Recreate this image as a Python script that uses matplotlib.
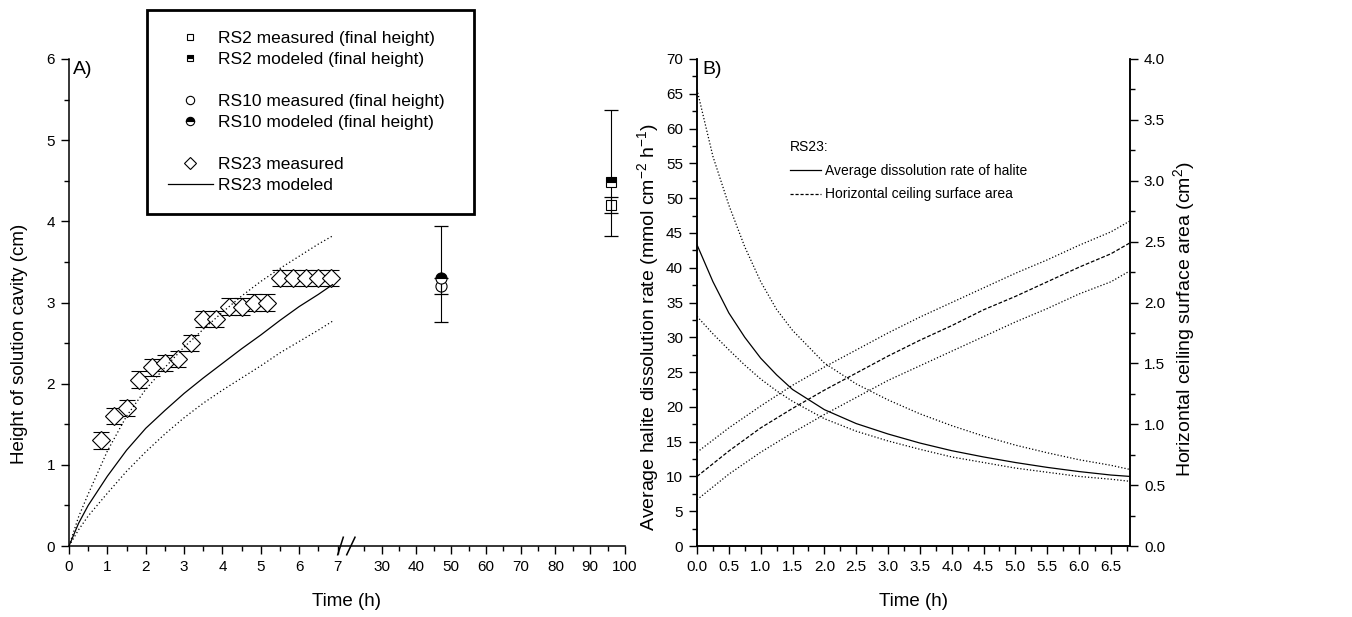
import numpy as np
import matplotlib
matplotlib.use("Agg")
import matplotlib.pyplot as plt
from matplotlib.lines import Line2D
from matplotlib.ticker import FixedLocator, MultipleLocator, FormatStrFormatter

plt.rcParams["font.family"] = ["Liberation Sans", "DejaVu Sans"]
plt.rcParams["mathtext.default"] = "regular"

# === A) height of solution cavity ===
# RS23 measured (h, cm)
rs23_t = [0.83, 1.17, 1.5, 1.83, 2.17, 2.5, 2.83, 3.17, 3.5, 3.83,
          4.17, 4.5, 4.83, 5.17, 5.5, 5.83, 6.17, 6.5, 6.83]
rs23_h = [1.3, 1.6, 1.7, 2.05, 2.2, 2.25, 2.3, 2.5, 2.8, 2.8,
          2.95, 2.95, 3.0, 3.0, 3.3, 3.3, 3.3, 3.3, 3.3]
rs23_err = 0.1

# RS23 modeled + bounds
mod_t = [0, 0.25, 0.5, 1, 1.5, 2, 2.5, 3, 3.5, 4, 4.5, 5, 5.5, 6, 6.5, 6.87]
mod_h = [0, 0.28, 0.50, 0.86, 1.18, 1.45, 1.67, 1.88, 2.07, 2.25, 2.43, 2.60, 2.78, 2.95, 3.10, 3.22]
mod_hi = [0, 0.36, 0.64, 1.17, 1.60, 1.93, 2.20, 2.45, 2.67, 2.88, 3.08, 3.26, 3.42, 3.57, 3.72, 3.82]
mod_lo = [0, 0.20, 0.37, 0.65, 0.92, 1.16, 1.38, 1.58, 1.76, 1.92, 2.07, 2.22, 2.38, 2.52, 2.66, 2.77]

# final heights (RS10, RS2)
fin_t = [47, 96]
fin_meas = [3.2, 4.2]
fin_meas_err = [0.1, 0.1]
fin_mod = [3.30, 4.48]
fin_mod_lo = [2.76, 3.82]
fin_mod_hi = [3.94, 5.37]

# === B) dissolution rate / ceiling area ===
rate_t = [0, 0.25, 0.5, 0.75, 1, 1.25, 1.5, 2, 2.5, 3, 3.5, 4, 4.5, 5, 5.5, 6, 6.5, 6.8]
rate_mid = [43.3, 38.0, 33.5, 30.0, 27.0, 24.6, 22.5, 19.6, 17.6, 16.1, 14.8, 13.7, 12.8, 12.0, 11.3, 10.7, 10.2, 10.0]
rate_up = [65.6, 56.0, 49.0, 43.0, 38.0, 34.0, 31.0, 26.3, 23.3, 21.0, 19.0, 17.3, 15.8, 14.5, 13.4, 12.4, 11.6, 11.0]
rate_low = [33.0, 30.5, 28.2, 26.0, 24.0, 22.3, 20.8, 18.3, 16.5, 15.1, 13.9, 12.8, 12.0, 11.2, 10.6, 10.0, 9.6, 9.3]

area_t = [0, 0.5, 1, 1.5, 2, 2.5, 3, 3.5, 4, 4.5, 5, 5.5, 6, 6.5, 6.8]
area_mid = [0.571, 0.78, 0.97, 1.13, 1.28, 1.42, 1.56, 1.69, 1.81, 1.94, 2.05, 2.17, 2.29, 2.40, 2.49]
area_up = [0.77, 0.97, 1.15, 1.32, 1.47, 1.61, 1.75, 1.88, 2.00, 2.12, 2.24, 2.35, 2.47, 2.58, 2.67]
area_low = [0.38, 0.59, 0.77, 0.93, 1.08, 1.22, 1.36, 1.48, 1.60, 1.72, 1.84, 1.95, 2.07, 2.17, 2.26]

# broken time axis (0-7 h, then 20-100 h compressed)
BRK_A, BRK_B, K = 7.1, 18.4, 0.0906


def fwd(t):
    t = np.asarray(t, dtype=float)
    return np.where(t <= BRK_A, t, BRK_A + np.clip(t - BRK_B, 0, None) * K)


def inv(x):
    x = np.asarray(x, dtype=float)
    return np.where(x <= BRK_A, x, BRK_B + (x - BRK_A) / K)


TICK_FS = 11
W, H = 1352, 617

fig = plt.figure(figsize=(W / 100, H / 100), dpi=100)
axA = fig.add_axes([69 / W, 71 / H, 556 / W, 487 / H])
axB = fig.add_axes([697 / W, 71 / H, 433 / W, 487 / H])
axB2 = axB.twinx()

for a in (axA, axB, axB2):
    a.tick_params(which="both", direction="out", width=1.0, labelsize=TICK_FS, pad=4)
    a.tick_params(which="major", length=6)
    a.tick_params(which="minor", length=3.5)
    for s in a.spines.values():
        s.set_linewidth(1.1)
    a.spines["top"].set_visible(False)

# ---- panel A ----
axA.spines["right"].set_visible(False)
axA.set_xscale("function", functions=(fwd, inv))
axA.set_xlim(0, 100)
axA.set_ylim(0, 6)
axA.xaxis.set_major_locator(FixedLocator([0, 1, 2, 3, 4, 5, 6, 7, 30, 40, 50, 60, 70, 80, 90, 100]))
axA.xaxis.set_minor_locator(FixedLocator([0.5, 1.5, 2.5, 3.5, 4.5, 5.5, 6.5, 25, 35, 45, 55, 65, 75, 85, 95]))
axA.xaxis.set_major_formatter(FormatStrFormatter("%g"))
axA.xaxis.set_minor_formatter(FormatStrFormatter(""))
axA.yaxis.set_major_locator(MultipleLocator(1))
axA.yaxis.set_minor_locator(MultipleLocator(0.5))

axA.errorbar(rs23_t, rs23_h, yerr=rs23_err, fmt="D", ms=9.5, mfc="white", mec="black",
             mew=0.8, ecolor="black", elinewidth=0.8, capsize=5.5, capthick=0.9, zorder=2)
axA.plot(mod_t, mod_h, color="black", lw=0.9, zorder=3)
axA.plot(mod_t, mod_hi, color="black", lw=0.9, ls=(0, (1, 2)), zorder=3)
axA.plot(mod_t, mod_lo, color="black", lw=0.9, ls=(0, (1, 2)), zorder=3)

yerr_mod = [np.array(fin_mod) - np.array(fin_mod_lo), np.array(fin_mod_hi) - np.array(fin_mod)]
axA.errorbar(fin_t, fin_mod, yerr=yerr_mod, fmt="none", ecolor="black",
             elinewidth=0.8, capsize=5, capthick=0.9)
axA.errorbar(fin_t, fin_meas, yerr=fin_meas_err, fmt="none", ecolor="black",
             elinewidth=0.8, capsize=5, capthick=0.9)
axA.plot(fin_t[0], fin_meas[0], "o", ms=8, mfc="none", mec="black", mew=0.8)
axA.plot(fin_t[1], fin_meas[1], "s", ms=7, mfc="none", mec="black", mew=0.8)
axA.plot(fin_t[0], fin_mod[0], "o", ms=8, fillstyle="top", mfc="black",
         markerfacecoloralt="white", mec="black", mew=0.8)
axA.plot(fin_t[1], fin_mod[1], "s", ms=7, fillstyle="top", mfc="black",
         markerfacecoloralt="white", mec="black", mew=0.8)

# break marks on the time axis
for x0, x1 in [(0.4833, 0.4933), (0.4995, 0.5144)]:
    axA.add_line(Line2D([x0, x1], [-0.018, 0.018], transform=axA.transAxes,
                        color="black", lw=1.1, clip_on=False))

axA.set_xlabel("Time (h)", fontsize=13.5, labelpad=14)
axA.set_ylabel("Height of solution cavity (cm)", fontsize=13.5)
axA.yaxis.set_label_coords(-0.074, 0.415)
axA.text(0.008, 0.995, "A)", transform=axA.transAxes, fontsize=14, va="top", ha="left")

blank = Line2D([], [], ls="none")
handles = [
    Line2D([], [], ls="none", marker="s", ms=5, mfc="none", mec="black", mew=0.8),
    Line2D([], [], ls="none", marker="s", ms=5, fillstyle="top", mfc="black",
           markerfacecoloralt="white", mec="black", mew=0.8),
    blank,
    Line2D([], [], ls="none", marker="o", ms=6, mfc="none", mec="black", mew=0.8),
    Line2D([], [], ls="none", marker="o", ms=6, fillstyle="top", mfc="black",
           markerfacecoloralt="white", mec="black", mew=0.8),
    blank,
    Line2D([], [], ls="none", marker="D", ms=6.5, mfc="none", mec="black", mew=0.8),
    Line2D([], [], color="black", lw=0.9),
]
labels = ["RS2 measured (final height)", "RS2 modeled (final height)", " ",
          "RS10 measured (final height)", "RS10 modeled (final height)", " ",
          "RS23 measured", "RS23 modeled"]
legA = fig.legend(handles, labels, loc="upper left", mode="expand",
                  bbox_to_anchor=(147 / W, 0.5, 327 / W, 1 - 10 / H - 0.5),
                  borderaxespad=0, fontsize=12.5, frameon=True, fancybox=False,
                  edgecolor="black", framealpha=1, borderpad=1.2, labelspacing=0.34,
                  handlelength=2.6, handletextpad=0.3)
legA.get_frame().set_linewidth(2.0)

# ---- panel B ----
axB.set_xlim(0, 6.8)
axB.set_ylim(0, 70)
axB2.set_ylim(0, 4)
axB.xaxis.set_major_locator(MultipleLocator(0.5))
axB.xaxis.set_minor_locator(MultipleLocator(0.25))
axB.xaxis.set_major_formatter(FormatStrFormatter("%.1f"))
axB.yaxis.set_major_locator(MultipleLocator(5))
axB.yaxis.set_minor_locator(MultipleLocator(2.5))
axB2.yaxis.set_major_locator(MultipleLocator(0.5))
axB2.yaxis.set_minor_locator(MultipleLocator(0.25))
axB2.yaxis.set_major_formatter(FormatStrFormatter("%.1f"))

dot = (0, (1, 1.6))
axB.plot(rate_t, rate_mid, color="black", lw=0.9)
axB.plot(rate_t, rate_up, color="black", lw=0.9, ls=dot)
axB.plot(rate_t, rate_low, color="black", lw=0.9, ls=dot)
axB2.plot(area_t, area_mid, color="black", lw=0.9, ls=(0, (3, 1.5)))
axB2.plot(area_t, area_up, color="black", lw=0.9, ls=dot)
axB2.plot(area_t, area_low, color="black", lw=0.9, ls=dot)

axB.set_xlabel("Time (h)", fontsize=13.5, labelpad=14)
axB.set_ylabel("Average halite dissolution rate (mmol cm$^{-2}$ h$^{-1}$)", fontsize=14)
axB.yaxis.set_label_coords(-0.083, 0.45)
axB2.set_ylabel("Horizontal ceiling surface area (cm$^{2}$)", fontsize=14)
axB2.yaxis.set_label_coords(1.095, 0.465)
axB.text(0.012, 0.995, "B)", transform=axB.transAxes, fontsize=14, va="top", ha="left")

hB = [Line2D([], [], color="black", lw=0.9),
      Line2D([], [], color="black", lw=0.9, ls=(0, (2.5, 1.5)))]
legB = fig.legend(hB, ["Average dissolution rate of halite", "Horizontal ceiling surface area"],
                  loc="upper left", bbox_to_anchor=(790 / W, 1 - 140 / H), borderaxespad=0,
                  borderpad=0, frameon=False, fontsize=10, title="RS23:", title_fontsize=10,
                  alignment="left", handlelength=2.2, handletextpad=0.35, labelspacing=0.7)

fig.savefig("out.png", dpi=100)
